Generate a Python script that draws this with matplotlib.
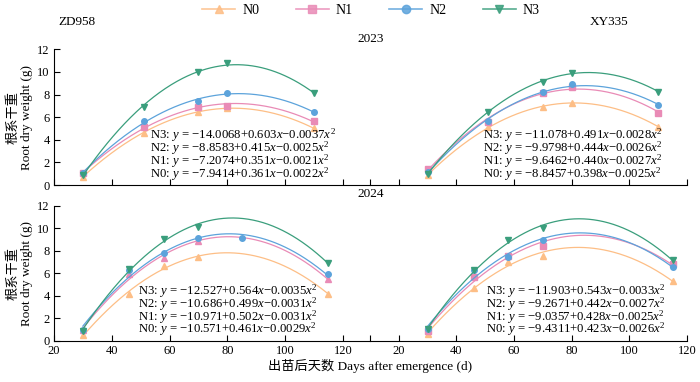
import numpy as np
import matplotlib
matplotlib.use("Agg")
import matplotlib.pyplot as plt
from matplotlib.lines import Line2D

plt.rcParams['font.family'] = ['Liberation Serif', 'Noto Sans CJK SC', 'DejaVu Sans']
plt.rcParams['mathtext.fontset'] = 'custom'
plt.rcParams['mathtext.rm'] = 'Liberation Serif'
plt.rcParams['mathtext.it'] = 'Liberation Serif:italic'

series = ["N0", "N1", "N2", "N3"]
colors = ["#FDBE86", "#E98BB6", "#5CA3DB", "#3A9E7C"]
markers = ["^", "s", "o", "v"]

# days after emergence for each panel
days_zd_2023 = [30, 51, 70, 80, 110]
days_xy_2023 = [30, 51, 70, 80, 110]
days_zd_2024 = [30, 46, 58, 70, 115]
days_zd_2024_n2 = [30, 46, 58, 70, 85, 115]
days_xy_2024 = [30, 46, 58, 70, 115]

# root dry weight (g)
zd_2023 = {
    "N0": [0.73, 4.63, 6.49, 6.79, 5.01],
    "N1": [1.03, 5.16, 6.93, 6.99, 5.63],
    "N2": [1.05, 5.66, 7.43, 8.11, 6.46],
    "N3": [0.9, 6.87, 10.03, 10.77, 8.1],
}
xy_2023 = {
    "N0": [0.88, 5.1, 6.93, 7.28, 5.16],
    "N1": [1.42, 5.6, 8.17, 8.65, 6.4],
    "N2": [1.12, 5.69, 8.2, 8.91, 7.08],
    "N3": [1.0, 6.49, 9.14, 9.94, 8.26],
}
zd_2024 = {
    "N0": [0.5, 4.15, 6.64, 7.47, 4.15],
    "N1": [0.95, 5.93, 7.32, 8.89, 5.45],
    "N2": [0.95, 6.3, 7.82, 9.1, 9.1, 5.9],
    "N3": [0.9, 6.36, 9.01, 10.13, 6.88],
}
xy_2024 = {
    "N0": [0.6, 4.71, 7.02, 7.53, 5.33],
    "N1": [0.86, 5.69, 7.56, 8.42, 6.79],
    "N2": [1.01, 6.28, 7.41, 8.95, 6.58],
    "N3": [1.0, 6.28, 8.95, 9.99, 7.17],
}

eq_zd_2023 = ["N3: $y$ = −14.0068+0.603$x$−0.0037$x^2$",
              "N2: $y$ = −8.8583+0.415$x$−0.0025$x^2$",
              "N1: $y$ = −7.2074+0.351$x$−0.0021$x^2$",
              "N0: $y$ = −7.9414+0.361$x$−0.0022$x^2$"]
eq_xy_2023 = ["N3: $y$ = −11.078+0.491$x$−0.0028$x^2$",
              "N2: $y$ = −9.9798+0.444$x$−0.0026$x^2$",
              "N1: $y$ = −9.6462+0.440$x$−0.0027$x^2$",
              "N0: $y$ = −8.8457+0.398$x$−0.0025$x^2$"]
eq_zd_2024 = ["N3: $y$ = −12.527+0.564$x$−0.0035$x^2$",
              "N2: $y$ = −10.686+0.499$x$−0.0031$x^2$",
              "N1: $y$ = −10.971+0.502$x$−0.0031$x^2$",
              "N0: $y$ = −10.571+0.461$x$−0.0029$x^2$"]
eq_xy_2024 = ["N3: $y$ = −11.903+0.543$x$−0.0033$x^2$",
              "N2: $y$ = −9.2671+0.442$x$−0.0027$x^2$",
              "N1: $y$ = −9.0357+0.428$x$−0.0025$x^2$",
              "N0: $y$ = −9.4311+0.423$x$−0.0026$x^2$"]

fig = plt.figure(figsize=(7, 3.82), dpi=100)

# rect, xlim, days, data, equations, eq block x / y (axes fraction), left axis?, bottom labels?
panels = [
    ([0.0771, 0.5157, 0.4514, 0.355], (20, 129.4), days_zd_2023, zd_2023, eq_zd_2023, 0.304, 0.221, True, False),
    ([0.5286, 0.5157, 0.4529, 0.355], (10, 120), days_xy_2023, xy_2023, eq_xy_2023, 0.356, 0.221, False, False),
    ([0.0771, 0.108, 0.4514, 0.3534], (20, 129.4), days_zd_2024, zd_2024, eq_zd_2024, 0.266, 0.226, True, True),
    ([0.5286, 0.108, 0.4529, 0.3534], (10, 120), days_xy_2024, xy_2024, eq_xy_2024, 0.366, 0.226, False, True),
]

for i, (rect, xlim, days, data, eqs, ex, ey, left, bottom) in enumerate(panels):
    ax = fig.add_axes(rect)
    for name, c, m in zip(series, colors, markers):
        x = np.array(days_zd_2024_n2 if (i == 2 and name == "N2") else days, dtype=float)
        y = np.array(data[name])
        # ZD958 2024 N1 is drawn with triangles in the original
        mk = "^" if (i == 2 and name == "N1") else m
        p = np.polyfit(x, y, 2)
        xs = np.linspace(x.min(), x.max(), 200)
        ax.plot(xs, np.polyval(p, xs), color=c, lw=0.9)
        ax.plot(x, y, linestyle="none", marker=mk, color=c, ms=4, mec=c)
    ax.set_xlim(*xlim)
    ax.set_ylim(0, 12)
    ax.spines["top"].set_visible(False)
    ax.spines["right"].set_visible(False)
    ax.tick_params(direction="in", length=4, width=0.8, labelsize=9, pad=3)
    if xlim[0] == 10:
        ax.set_xticks([10, 20, 40, 60, 80, 100, 120])
        labels = ["", "20", "40", "60", "80", "100", "120"]
    else:
        ax.set_xticks([20, 40, 60, 80, 100, 120])
        labels = ["20", "40", "60", "80", "100", "120"]
    ax.set_xticklabels(labels if bottom else [""] * len(labels))
    if left:
        ax.set_yticks(range(0, 13, 2))
        ax.set_ylabel("根系干重\nRoot dry weight (g)", fontsize=9.5, labelpad=3, linespacing=1.15)
    else:
        ax.spines["left"].set_visible(False)
        ax.set_yticks([])
    # fitted equations as one block
    ax.text(ex, ey, "\n".join(eqs), transform=ax.transAxes, fontsize=9.2,
            va="center", ha="left", linespacing=0.62)

fig.text(0.083, 0.942, "ZD958", fontsize=9.5, ha="left", va="center")
fig.text(0.843, 0.942, "XY335", fontsize=9.5, ha="left", va="center")
fig.text(0.529, 0.898, "2023", fontsize=9.5, ha="center", va="center")
fig.text(0.529, 0.492, "2024", fontsize=9.5, ha="center", va="center")
fig.text(0.529, 0.042, "出苗后天数 Days after emergence (d)", fontsize=9.5, ha="center", va="center")

handles = [Line2D([0], [0], color=c, marker=m, ms=6, lw=1.2, alpha=0.85) for c, m in zip(colors, markers)]
fig.legend(handles, series, loc="center", bbox_to_anchor=(0.53, 0.973), ncol=4, frameon=False,
           fontsize=10, handlelength=2.4, columnspacing=2.6, handletextpad=0.5)

fig.savefig("out.png", dpi=100)
